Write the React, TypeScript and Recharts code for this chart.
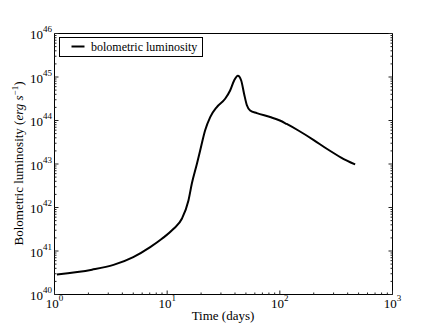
import React from 'react';
import { LineChart, Line, XAxis, YAxis, Legend } from 'recharts';

const times = [1.05, 2.15, 3.34, 5.0, 7.07, 8.98, 11.4, 13.5, 15.45, 16.56, 18.35, 19.63, 21.7, 24.1, 27.6, 32.7, 36.2, 39.3, 42.4, 45.4, 48.2, 51.0, 54.5, 62.5, 82, 100, 115, 146, 200, 261, 350, 466];
const luminosity = [2.88e40, 3.72e40, 4.79e40, 7.24e40, 1.23e41, 1.91e41, 3.24e41, 5.5e41, 1.45e42, 3.55e42, 1.0e43, 2.04e43, 5.89e43, 1.2e44, 2.04e44, 3.16e44, 4.9e44, 8.32e44, 1.07e45, 8.32e44, 4.07e44, 2.24e44, 1.7e44, 1.48e44, 1.2e44, 1.0e44, 8.32e43, 5.89e43, 3.55e43, 2.24e43, 1.41e43, 9.77e42];

const xMajor = [1, 10, 100, 1000];
const xMajorExp = ['0', '1', '2', '3'];
const yMajor = [1e40, 1e41, 1e42, 1e43, 1e44, 1e45, 1e46];
const yMajorExp = ['40', '41', '42', '43', '44', '45', '46'];
const minorMult = [2, 3, 4, 5, 6, 7, 8, 9];

const withMinor = (majors: number[]) => {
  const out: number[] = [];
  majors.forEach((m, i) => {
    out.push(m);
    if (i < majors.length - 1) minorMult.forEach((k) => out.push(k * m));
  });
  return out;
};
const xTicks = withMinor(xMajor);
const yTicks = withMinor(yMajor);

const data = times.map((t, i) => ({ t, L: luminosity[i] }));

const FONT = '"Liberation Serif", "DejaVu Serif", serif';
const TICK_COLOR = '#222';
const MAJOR = 4;
const MINOR = 2;

const isMajor = (arr: number[], v: number) => arr.indexOf(v);

const BottomTick = (props: any) => {
  const { x, y, payload } = props;
  const i = isMajor(xMajor, payload.value);
  return (
    <g>
      <line x1={x} x2={x} y1={y} y2={y - (i >= 0 ? MAJOR : MINOR)} stroke={TICK_COLOR} strokeWidth={1} />
      {i >= 0 && (
        <text x={x} y={y + 13} textAnchor="middle" fontFamily={FONT} fontSize={13} fill="#000">
          10<tspan dy={-7} fontSize={9}>{xMajorExp[i]}</tspan>
        </text>
      )}
    </g>
  );
};

const TopTick = (props: any) => {
  const { x, y, payload } = props;
  const i = isMajor(xMajor, payload.value);
  return <line x1={x} x2={x} y1={y} y2={y + (i >= 0 ? MAJOR : MINOR)} stroke={TICK_COLOR} strokeWidth={1} />;
};

const LeftTick = (props: any) => {
  const { x, y, payload } = props;
  const i = isMajor(yMajor, payload.value);
  return (
    <g>
      <line x1={x} x2={x + (i >= 0 ? MAJOR : MINOR)} y1={y} y2={y} stroke={TICK_COLOR} strokeWidth={1} />
      {i >= 0 && (
        <text x={x - 2.5} y={y + 5.5} textAnchor="end" fontFamily={FONT} fontSize={13} fill="#000">
          10<tspan dy={-7} fontSize={9}>{yMajorExp[i]}</tspan>
        </text>
      )}
    </g>
  );
};

const RightTick = (props: any) => {
  const { x, y, payload } = props;
  const i = isMajor(yMajor, payload.value);
  return <line x1={x} x2={x - (i >= 0 ? MAJOR : MINOR)} y1={y} y2={y} stroke={TICK_COLOR} strokeWidth={1} />;
};

const XTitle = () => (
  <text x={223} y={320} textAnchor="middle" fontFamily={FONT} fontSize={13} fill="#000">
    Time (days)
  </text>
);

const YTitle = () => (
  <text transform="translate(23,163.5) rotate(-90)" textAnchor="middle" fontFamily={FONT} fontSize={13} fill="#000">
    Bolometric luminosity (<tspan fontStyle="italic">erg s</tspan>
    <tspan dy={-5} fontSize={9}>−1</tspan>
    <tspan dy={5}>)</tspan>
  </text>
);

const LegendBox = () => (
  <svg width={144} height={20} style={{ display: 'block' }}>
    <rect x={0.5} y={0.5} width={143} height={19} fill="#fff" stroke="#000" strokeWidth={1} />
    <line x1={12.5} x2={25.5} y1={9.5} y2={9.5} stroke="#000" strokeWidth={2} />
    <text x={32} y={13.5} fontFamily={FONT} fontSize={12} fill="#000">
      bolometric luminosity
    </text>
  </svg>
);

export default function App() {
  return (
    <div style={{ position: 'absolute', left: 0, top: 0 }}>
      <LineChart
        width={436}
        height={327}
        data={data}
        margin={{ top: 32.5, right: 42.5, bottom: 31.5, left: 0 }}
        style={{ background: '#fff' }}
      >
        <XAxis
          dataKey="t"
          type="number"
          scale="log"
          domain={[1, 1000]}
          allowDataOverflow
          ticks={xTicks}
          interval={0}
          height={1}
          tickSize={0}
          tickMargin={0}
          tickLine={false}
          axisLine={{ stroke: '#000', strokeWidth: 1 }}
          tick={<BottomTick />}
          label={<XTitle />}
        />
        <XAxis
          xAxisId="top"
          orientation="top"
          type="number"
          scale="log"
          domain={[1, 1000]}
          allowDataOverflow
          ticks={xTicks}
          interval={0}
          height={1}
          tickSize={0}
          tickMargin={0}
          tickLine={false}
          axisLine={{ stroke: '#000', strokeWidth: 1 }}
          tick={<TopTick />}
        />
        <YAxis
          type="number"
          scale="log"
          domain={[1e40, 1e46]}
          allowDataOverflow
          ticks={yTicks}
          interval={0}
          width={54.5}
          tickSize={0}
          tickMargin={0}
          tickLine={false}
          axisLine={{ stroke: '#000', strokeWidth: 1 }}
          tick={<LeftTick />}
          label={<YTitle />}
        />
        <YAxis
          yAxisId="right"
          orientation="right"
          type="number"
          scale="log"
          domain={[1e40, 1e46]}
          allowDataOverflow
          ticks={yTicks}
          interval={0}
          width={1}
          tickSize={0}
          tickMargin={0}
          tickLine={false}
          axisLine={{ stroke: '#000', strokeWidth: 1 }}
          tick={<RightTick />}
        />
        <Legend
          layout="vertical"
          align="center"
          verticalAlign="middle"
          wrapperStyle={{ left: 59, top: 37, width: 144, height: 20 }}
          content={<LegendBox />}
        />
        <Line
          dataKey="L"
          type="monotone"
          stroke="#000"
          strokeWidth={2}
          dot={false}
          isAnimationActive={false}
          name="bolometric luminosity"
        />
      </LineChart>
    </div>
  );
}
